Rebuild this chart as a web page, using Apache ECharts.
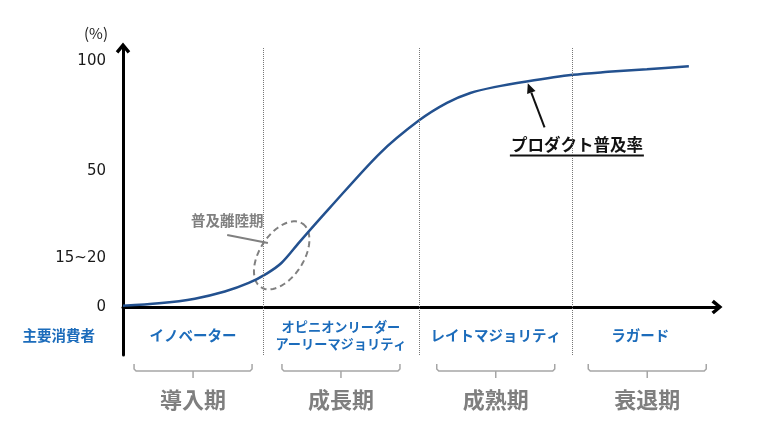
<!DOCTYPE html>
<html>
<head>
<meta charset="utf-8">
<script src="https://cdn.jsdelivr.net/npm/echarts@6/dist/echarts.min.js"></script>
<style>html,body{margin:0;padding:0;background:#fff;}#c{width:770px;height:424px;}</style>
</head>
<body>
<div id="c"></div>
<script>
// ---- data ----
const phaseBounds = [0, 23.4, 49.4, 75.1, 100];
const curveX = [0, 6, 12, 17, 21, 24, 26.5, 29.5, 34.6, 42.9, 49.4, 54.1, 58, 62, 67.4, 75.1, 81, 87.5, 94.5];
const curveY = [0.5, 1.5, 3.4, 6.3, 9.8, 13.6, 18.0, 26.5, 40.5, 62.5, 75.8, 83.0, 87.0, 89.4, 91.7, 94.4, 95.6, 96.7, 97.9];
const consumerLabels = ['イノベーター', 'オピニオンリーダー\nアーリーマジョリティ', 'レイトマジョリティ', 'ラガード'];
const phaseNames = ['導入期', '成長期', '成熟期', '衰退期'];
const yTickValues = [-11.4, 0, 19.9, 55.3, 100];
const yTickLabels = ['主要消費者', '0', '15~20', '50', '100'];
const yUnit = '(%)';
// annotation anchors (data coordinates)
const takeoffCenter = [26.5, 21];
const takeoffLabel = [17.4, 35.0];
const takeoffPointer = [[17.4, 29.3], [24.2, 26.0]];
const adoptionArrow = [[70.4, 73.0], [67.6, 91.0]];
const adoptionLabel = [75.8, 65.9];

const JP = '"Noto Sans CJK JP", sans-serif';
const phaseMids = [];
for (let i = 0; i < phaseBounds.length - 1; i++) phaseMids.push((phaseBounds[i] + phaseBounds[i + 1]) / 2);
const phaseData = phaseNames.map((n, i) => [phaseBounds[i], phaseBounds[i + 1]]);
const curveData = curveX.map((x, i) => [x, curveY[i]]);
const chev = 'path://M5,0 L10,6 L8.2,7.6 L5,3.6 L1.8,7.6 L0,6 Z';
const BLUE = '#1c6cbb';

const chart = echarts.init(document.getElementById('c'));
chart.setOption({
  animation: false,
  title: { text: yUnit, left: 79, top: 21, textStyle: { fontSize: 15, fontWeight: 'normal', color: '#1a1a1a', fontFamily: JP } },
  grid: { left: 123, right: 53, top: 48, bottom: 69 },
  xAxis: {
    type: 'value', min: 0, max: 99.2,
    splitLine: { show: false }, axisTick: { show: false },
    axisLine: { onZero: true, lineStyle: { color: '#000', width: 3 }, symbol: ['none', chev], symbolSize: [15, 11] },
    axisLabel: {
      customValues: phaseMids, margin: -20, verticalAlign: 'middle',
      color: BLUE, fontWeight: 'bold', fontFamily: JP, fontSize: 14.5, lineHeight: 17,
      formatter: v => {
        const i = phaseMids.indexOf(v); if (i < 0) return '';
        const t = consumerLabels[i];
        if (t.indexOf('\n') >= 0) return '{s|' + t.split('\n').join('}\n{s|') + '}';
        if (i === consumerLabels.length - 1) return '{r|' + t + '}';
        return t;
      },
      rich: {
        s: { fontSize: 13.2, fontWeight: 'bold', color: BLUE, fontFamily: JP, lineHeight: 17 },
        r: { fontSize: 14.5, fontWeight: 'bold', color: BLUE, fontFamily: JP, padding: [0, 14, 0, 0] }
      }
    }
  },
  yAxis: {
    type: 'value', min: -19.5, max: 105.3,
    splitLine: { show: false }, axisTick: { show: false },
    axisLine: { onZero: false, lineStyle: { color: '#000', width: 3 }, symbol: ['none', chev], symbolSize: [15, 11] },
    axisLabel: {
      customValues: yTickValues, margin: 17, color: '#1a1a1a', fontSize: 15, fontFamily: '"DejaVu Sans", sans-serif',
      formatter: v => { const i = yTickValues.indexOf(v); if (i < 0) return ''; return i === 0 ? '{b|' + yTickLabels[i] + '}' : yTickLabels[i]; },
      rich: { b: { color: BLUE, fontWeight: 'bold', fontSize: 14.5, fontFamily: JP, padding: [0, 11, 0, 0] } }
    }
  },
  series: [
    {
      type: 'line', data: curveData, smooth: 0.3, symbol: 'none',
      lineStyle: { color: '#23518f', width: 2.5 },
      markLine: {
        silent: true, symbol: 'none', label: { show: false },
        lineStyle: { type: 'dotted', color: '#777', width: 1 },
        data: phaseBounds.slice(1, -1).map(x => ({ xAxis: x }))
      }
    },
    {
      type: 'custom', data: phaseData, clip: false, silent: true,
      encode: { x: [0, 1] },
      renderItem: (params, api) => {
        const s = api.value(0), e = api.value(1);
        const p = api.coord([(s + e) / 2, 0]);
        const mx = p[0], y0 = p[1], hw = 59;
        const top = y0 + 57, base = y0 + 64;
        return { type: 'group', children: [
          { type: 'polyline', shape: { points: [[mx - hw, top], [mx - hw, base - 2], [mx - hw + 2, base], [mx + hw - 2, base], [mx + hw, base - 2], [mx + hw, top]] },
            style: { stroke: '#a6a6a6', lineWidth: 1.5, fill: null } },
          { type: 'line', shape: { x1: mx, y1: base, x2: mx, y2: base + 7 }, style: { stroke: '#a6a6a6', lineWidth: 1.5 } },
          { type: 'text', x: mx, y: y0 + 93, style: { text: phaseNames[params.dataIndex], fill: '#7f7f7f', font: 'bold 22px ' + JP, align: 'center', verticalAlign: 'middle' } }
        ] };
      }
    },
    {
      type: 'custom', data: [[0, 0]], clip: false, silent: true,
      renderItem: (params, api) => {
        const c = api.coord(takeoffCenter);
        const th = 57 * Math.PI / 180, a = 38, b = 22;
        const pts = [];
        for (let k = 0; k <= 96; k++) {
          const t = k / 96 * Math.PI * 2;
          pts.push([c[0] + a * Math.cos(t) * Math.cos(th) + b * Math.sin(t) * Math.sin(th),
                    c[1] - a * Math.cos(t) * Math.sin(th) + b * Math.sin(t) * Math.cos(th)]);
        }
        const tl = api.coord(takeoffLabel);
        const q1 = api.coord(takeoffPointer[0]), q2 = api.coord(takeoffPointer[1]);
        const a1 = api.coord(adoptionArrow[0]), a2 = api.coord(adoptionArrow[1]);
        const dx = a2[0] - a1[0], dy = a2[1] - a1[1], L = Math.sqrt(dx * dx + dy * dy);
        const ux = dx / L, uy = dy / L, hl = 10, hw = 4.5;
        const bx = a2[0] - ux * hl, by = a2[1] - uy * hl;
        const al = api.coord(adoptionLabel);
        return { type: 'group', children: [
          { type: 'polyline', shape: { points: pts }, style: { stroke: '#808080', lineWidth: 2, lineDash: [6, 4], fill: null } },
          { type: 'line', shape: { x1: q1[0], y1: q1[1], x2: q2[0], y2: q2[1] }, style: { stroke: '#808080', lineWidth: 2 } },
          { type: 'text', x: tl[0], y: tl[1], style: { text: '普及離陸期', fill: '#808080', font: 'bold 14.5px ' + JP, align: 'center', verticalAlign: 'middle' } },
          { type: 'line', shape: { x1: a1[0], y1: a1[1], x2: bx, y2: by }, style: { stroke: '#111', lineWidth: 2 } },
          { type: 'polygon', shape: { points: [[a2[0], a2[1]], [bx - uy * hw, by + ux * hw], [bx + uy * hw, by - ux * hw]] }, style: { fill: '#111' } },
          { type: 'text', x: al[0], y: al[1], style: { text: 'プロダクト普及率', fill: '#111', font: 'bold 16.5px ' + JP, align: 'center', verticalAlign: 'middle' } },
          { type: 'line', shape: { x1: al[0] - 67, y1: al[1] + 10.5, x2: al[0] + 67, y2: al[1] + 10.5 }, style: { stroke: '#111', lineWidth: 2 } }
        ] };
      }
    }
  ]
});
</script>
</body>
</html>
